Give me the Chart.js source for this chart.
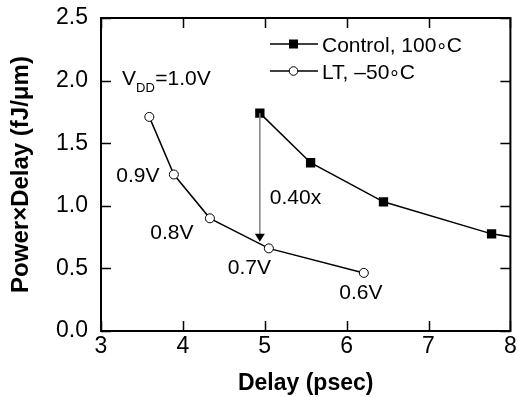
<!DOCTYPE html>
<html lang="en">
<head>
    <meta charset="UTF-8">
    <title>Power x Delay</title>
    <script src="https://cdn.jsdelivr.net/npm/chart.js"></script>
    <style>
        html, body { margin: 0; padding: 0; background: #fff; }
        #wrap { width: 517px; height: 397px; }
    </style>
</head>
<body>
    <div id="wrap"><canvas id="myChart" width="517" height="397"></canvas></div>
    <script>
        // Control device at 100C (last point lies past the x range, clipped at the frame)
        const controlDelay = [4.94, 5.56, 6.45, 7.77, 9.5];
        const controlPD = [1.74, 1.344, 1.032, 0.776, 0.60];

        // Low temperature device at -50C, one point per supply voltage
        const ltDelay = [3.59, 3.89, 4.33, 5.05, 6.21];
        const ltPD = [1.71, 1.25, 0.90, 0.66, 0.464];
        const ltVdd = ['1.0V', '0.9V', '0.8V', '0.7V', '0.6V'];

        const xTicks = [3, 4, 5, 6, 7, 8];
        const yTicks = [0.0, 0.5, 1.0, 1.5, 2.0, 2.5];

        // improvement arrow: from control at 1.0V down to the LT curve
        const arrowX = 4.94;
        const arrowFrom = 1.74;
        const arrowTo = 0.712;
        const ratioText = '0.40x';

        const FONT = '"Liberation Sans", Arial, Helvetica, sans-serif';

        const toXY = (xs, ys) => xs.map((x, i) => ({ x: x, y: ys[i] }));

        // draws "text" with a lowered degree ring before the final C
        function drawTemp(ctx, parts, x, y) {
            ctx.fillText(parts[0], x, y);
            x += ctx.measureText(parts[0]).width + 1;
            ctx.fillText('\u00B0', x, y + 6);
            x += ctx.measureText('\u00B0').width + 1;
            ctx.fillText(parts[1], x, y);
        }

        const decor = {
            id: 'decor',
            afterDraw(chart) {
                const ctx = chart.ctx;
                const xs = chart.scales.x, ys = chart.scales.y;
                const a = chart.chartArea;
                ctx.save();

                // frame
                ctx.strokeStyle = '#000';
                ctx.lineWidth = 2;
                ctx.strokeRect(a.left, a.top, a.right - a.left, a.bottom - a.top);

                // inward ticks on every side
                const tl = 10;
                ctx.lineWidth = 1.5;
                ctx.beginPath();
                xTicks.forEach(v => {
                    const px = Math.round(xs.getPixelForValue(v)) + 0.5;
                    ctx.moveTo(px, a.bottom); ctx.lineTo(px, a.bottom - tl);
                    ctx.moveTo(px, a.top); ctx.lineTo(px, a.top + tl);
                });
                yTicks.forEach(v => {
                    const py = Math.round(ys.getPixelForValue(v)) + 0.5;
                    ctx.moveTo(a.left, py); ctx.lineTo(a.left + tl, py);
                    ctx.moveTo(a.right, py); ctx.lineTo(a.right - tl, py);
                });
                ctx.stroke();

                // arrow
                const ax = xs.getPixelForValue(arrowX);
                const ay0 = ys.getPixelForValue(arrowFrom);
                const ay1 = ys.getPixelForValue(arrowTo);
                ctx.strokeStyle = '#808080';
                ctx.lineWidth = 1.5;
                ctx.beginPath();
                ctx.moveTo(ax, ay0);
                ctx.lineTo(ax, ay1 - 6);
                ctx.stroke();
                ctx.fillStyle = '#000';
                ctx.beginPath();
                ctx.moveTo(ax - 5, ay1 - 8);
                ctx.lineTo(ax + 5, ay1 - 8);
                ctx.lineTo(ax, ay1);
                ctx.closePath();
                ctx.fill();

                // text annotations
                ctx.fillStyle = '#000';
                ctx.font = '21px ' + FONT;
                ctx.textBaseline = 'alphabetic';
                ctx.textAlign = 'left';
                ctx.fillText(ratioText, ax + 10, ys.getPixelForValue(1.018));

                // supply voltage labels: [dx of centre, dy of baseline] from each point
                const voff = [null, [-36, 7], [-38, 21], [-19.5, 26], [-3, 26]];
                ctx.textAlign = 'center';
                ltVdd.forEach((t, i) => {
                    if (!voff[i]) return;
                    const px = xs.getPixelForValue(ltDelay[i]) + voff[i][0];
                    const py = ys.getPixelForValue(ltPD[i]) + voff[i][1];
                    ctx.fillText(t, px, py);
                });

                // V_DD=1.0V label
                ctx.textAlign = 'left';
                let tx = 122, ty = 85;
                ctx.fillText('V', tx, ty);
                tx += ctx.measureText('V').width;
                ctx.font = '13px ' + FONT;
                ctx.fillText('DD', tx, ty + 7);
                tx += ctx.measureText('DD').width + 0.5;
                ctx.font = '21px ' + FONT;
                ctx.fillText('=' + ltVdd[0], tx, ty);

                // legend
                const rows = [
                    { parts: ['Control, 100', 'C'], y: 44, filled: true },
                    { parts: ['LT, \u201350', 'C'], y: 71, filled: false }
                ];
                rows.forEach(r => {
                    ctx.strokeStyle = '#000';
                    ctx.lineWidth = 1.5;
                    ctx.beginPath();
                    ctx.moveTo(270, r.y); ctx.lineTo(318, r.y);
                    ctx.stroke();
                    if (r.filled) {
                        ctx.fillStyle = '#000';
                        ctx.fillRect(289, r.y - 4.5, 9, 9);
                    } else {
                        ctx.fillStyle = '#fff';
                        ctx.lineWidth = 1;
                        ctx.beginPath();
                        ctx.arc(293.5, r.y, 4.3, 0, Math.PI * 2);
                        ctx.fill();
                        ctx.stroke();
                    }
                    ctx.fillStyle = '#000';
                    ctx.font = '21px ' + FONT;
                    drawTemp(ctx, r.parts, 322, r.y + 7.5);
                });

                ctx.restore();
            }
        };

        const ctx = document.getElementById('myChart').getContext('2d');
        const myChart = new Chart(ctx, {
            type: 'line',
            data: {
                datasets: [{
                    label: 'Control, 100\u00B0C',
                    data: toXY(controlDelay, controlPD),
                    borderColor: '#000',
                    backgroundColor: '#000',
                    borderWidth: 1.5,
                    pointStyle: 'rect',
                    pointRadius: 6.6,
                    pointBorderWidth: 0,
                    tension: 0
                }, {
                    label: 'LT, \u201350\u00B0C',
                    data: toXY(ltDelay, ltPD),
                    borderColor: '#000',
                    backgroundColor: '#fff',
                    borderWidth: 1.5,
                    pointStyle: 'circle',
                    pointRadius: 4.5,
                    pointBorderWidth: 1,
                    tension: 0
                }]
            },
            options: {
                responsive: false,
                animation: false,
                layout: { padding: { left: 0, right: 6, top: 18, bottom: 0 } },
                plugins: {
                    legend: { display: false },
                    tooltip: { enabled: false }
                },
                scales: {
                    x: {
                        type: 'linear',
                        min: 3, max: 8,
                        afterBuildTicks: s => { s.ticks = xTicks.map(v => ({ value: v })); },
                        afterFit: s => { s.height = 66; s.paddingLeft = 0; s.paddingRight = 0; },
                        grid: { display: false, drawTicks: false },
                        border: { display: false },
                        ticks: {
                            color: '#000',
                            font: { family: FONT, size: 23 },
                            padding: 2,
                            maxRotation: 0
                        },
                        title: {
                            display: true,
                            text: 'Delay (psec)',
                            color: '#000',
                            font: { family: FONT, size: 23, weight: 'bold' },
                            padding: { top: 0, bottom: 0 }
                        }
                    },
                    y: {
                        type: 'linear',
                        min: 0, max: 2.5,
                        afterBuildTicks: s => { s.ticks = yTicks.map(v => ({ value: v })); },
                        afterFit: s => { s.width = 101; s.paddingTop = 0; s.paddingBottom = 0; },
                        grid: { display: false, drawTicks: false },
                        border: { display: false },
                        ticks: {
                            color: '#000',
                            font: { family: FONT, size: 23 },
                            padding: 13,
                            callback: v => v.toFixed(1)
                        },
                        title: {
                            display: true,
                            text: 'Power\u00D7Delay (fJ/\u03BCm)',
                            color: '#000',
                            font: { family: FONT, size: 24, weight: 'bold' },
                            padding: { top: 7, bottom: 0 }
                        }
                    }
                }
            },
            plugins: [decor]
        });
    </script>
</body>
</html>
